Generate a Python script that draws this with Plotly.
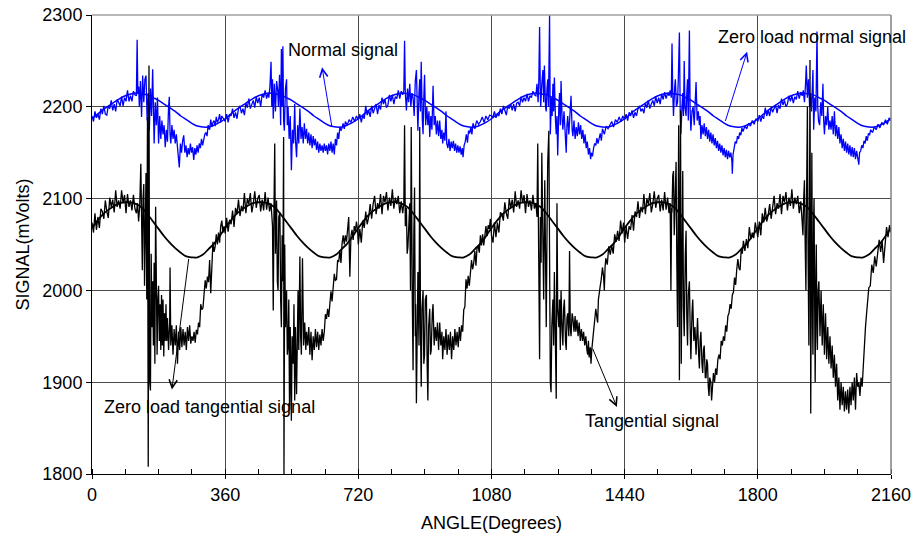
import plotly.graph_objects as go

# ---------------- data ----------------
# zero-load curves: one 360-degree cycle sampled every 15 degrees
zero_cycle_angle = [0, 15, 30, 45, 60, 75, 90, 105, 120, 135, 150, 165, 180,
                    195, 210, 225, 240, 255, 270, 285, 300, 315, 330, 345]
zero_normal_cycle = [2187, 2192, 2197, 2201, 2205, 2209, 2212, 2214, 2215, 2214, 2213, 2210, 2207,
                     2203, 2199, 2195, 2190, 2186, 2182, 2179, 2178, 2178, 2180, 2183]
zero_tang_cycle = [2068, 2076, 2083, 2088, 2092, 2095, 2096, 2096, 2094, 2090, 2083, 2075, 2067,
                   2059, 2052, 2046, 2041, 2037, 2036, 2036, 2039, 2045, 2051, 2059]
n_cycles = 6

# normal signal, (angle, mV) per revolution
normal_c1 = [(0,2190),(4,2184),(8,2195),(12,2188),(16,2192),(20,2186),(24,2198),(28,2192),(32,2201),(36,2192),(40,2191),(44,2201),(48,2198),(52,2207),(56,2196),(60,2203),(64,2195),(68,2208),(72,2205),(76,2201),(80,2211),(84,2201),(88,2210),(92,2206),(96,2218),(100,2206),(104,2212),(108,2206),(112,2217),(116,2213),(120,2212),(122,2273),(124,2214),(126,2222),(128,2200),(131,2228),(134,2189),(137,2234),(140,2205),(143,2230),(146,2234),(149,2185),(152,2215),(155,2174),(158,2220),(161,2190),(164,2241),(166,2172),(168,2160),(171,2205),(174,2180),(177,2210),(180,2160),(183,2190),(186,2165),(189,2185),(192,2170),(195,2180),(198,2156),(201,2175),(204,2162),(207,2200),(209,2211),(211,2170),(213,2160),(216,2180),(219,2165),(222,2175),(225,2160),(228,2170),(231,2155),(234,2145),(236,2134),(239,2160),(242,2150),(245,2163),(248,2169),(251,2150),(254,2158),(257,2145),(260,2155),(263,2148),(266,2160),(269,2150),(272,2156),(275,2142),(278,2155),(281,2148),(284,2158),(287,2150),(290,2160),(293,2155),(296,2165),(299,2158),(302,2165),(305,2170),(308,2172),(311,2168),(314,2180),(318,2175),(321,2186),(324,2178),(327,2183),(330,2185),(333,2179),(336,2189),(339,2183),(342,2186),(345,2192),(348,2183),(351,2190),(354,2188),(357,2186)]
normal_c2 = [(360,2184),(364,2192),(368,2183),(372,2192),(376,2190),(380,2198),(384,2188),(388,2194),(392,2187),(396,2198),(400,2201),(404,2193),(408,2198),(412,2191),(416,2204),(420,2199),(424,2209),(428,2198),(432,2203),(436,2207),(440,2199),(444,2211),(448,2204),(452,2210),(456,2200),(460,2214),(464,2210),(468,2218),(472,2209),(476,2215),(478,2210),(481,2222),(484,2249),(486,2200),(488,2230),(490,2187),(493,2225),(496,2195),(499,2228),(502,2218),(504,2200),(507,2235),(510,2180),(512,2263),(514,2200),(516,2266),(518,2185),(520,2174),(523,2220),(526,2230),(528,2180),(530,2200),(533,2165),(536,2190),(539,2131),(542,2175),(545,2160),(548,2203),(550,2165),(553,2145),(556,2180),(559,2160),(562,2198),(565,2165),(568,2178),(571,2160),(574,2182),(577,2165),(580,2176),(583,2160),(586,2172),(589,2158),(592,2170),(595,2155),(598,2168),(601,2158),(604,2165),(607,2153),(610,2162),(613,2150),(616,2160),(619,2152),(622,2158),(625,2150),(628,2160),(631,2152),(634,2158),(637,2148),(640,2160),(643,2152),(646,2162),(649,2150),(652,2160),(655,2148),(658,2165),(661,2158),(664,2172),(667,2165),(670,2178),(673,2174),(676,2177),(679,2182),(682,2176),(685,2184),(690,2180),(695,2186),(700,2183),(705,2189),(710,2184),(715,2190)]
normal_c3 = [(720,2186),(724,2192),(728,2183),(732,2191),(736,2187),(740,2201),(744,2191),(748,2196),(752,2189),(756,2201),(760,2193),(764,2198),(768,2203),(772,2192),(776,2202),(780,2197),(784,2210),(788,2203),(792,2208),(796,2199),(800,2202),(804,2213),(808,2206),(812,2213),(816,2203),(820,2211),(824,2209),(828,2218),(832,2209),(836,2217),(840,2213),(843,2218),(845,2272),(847,2215),(850,2196),(853,2220),(856,2205),(859,2225),(862,2200),(865,2215),(868,2210),(871,2190),(874,2228),(877,2240),(880,2190),(881,2174),(884,2215),(886,2230),(888,2195),(890,2249),(893,2185),(895,2170),(897,2210),(899,2235),(902,2180),(905,2200),(908,2180),(911,2195),(913,2167),(916,2190),(919,2175),(922,2223),(925,2180),(928,2190),(931,2170),(934,2185),(937,2168),(940,2185),(943,2165),(946,2175),(948,2160),(951,2172),(954,2163),(957,2195),(959,2160),(962,2155),(965,2165),(968,2152),(971,2162),(974,2155),(977,2163),(980,2152),(983,2160),(986,2150),(989,2158),(992,2150),(995,2157),(998,2148),(1001,2155),(1003,2145),(1006,2158),(1009,2162),(1012,2170),(1015,2161),(1018,2174),(1021,2171),(1024,2178),(1027,2170),(1030,2182),(1035,2176),(1040,2185),(1045,2181),(1050,2184),(1055,2189),(1060,2183),(1065,2190),(1070,2186),(1075,2191)]
normal_c4 = [(1080,2190),(1084,2189),(1088,2195),(1092,2188),(1096,2192),(1100,2190),(1104,2198),(1108,2192),(1112,2201),(1116,2196),(1120,2191),(1124,2201),(1128,2198),(1132,2203),(1136,2196),(1140,2203),(1144,2195),(1148,2204),(1152,2205),(1156,2201),(1160,2211),(1164,2205),(1168,2210),(1172,2206),(1176,2214),(1180,2206),(1184,2212),(1188,2210),(1192,2217),(1196,2213),(1200,2212),(1203,2225),(1206,2205),(1208,2230),(1210,2287),(1212,2215),(1213,2200),(1216,2225),(1219,2240),(1221,2205),(1223,2245),(1226,2200),(1228,2195),(1230,2220),(1232,2230),(1234,2200),(1237,2300),(1239,2170),(1242,2210),(1244,2190),(1246,2225),(1248,2195),(1250,2232),(1253,2185),(1255,2170),(1257,2190),(1259,2147),(1262,2200),(1264,2215),(1266,2180),(1268,2228),(1271,2185),(1273,2175),(1276,2195),(1279,2165),(1282,2150),(1284,2180),(1286,2190),(1289,2170),(1292,2195),(1295,2212),(1298,2175),(1300,2168),(1303,2185),(1306,2165),(1309,2178),(1312,2168),(1315,2183),(1318,2170),(1321,2180),(1324,2165),(1327,2175),(1330,2160),(1333,2170),(1336,2155),(1339,2162),(1342,2148),(1345,2155),(1348,2143),(1350,2150),(1353,2146),(1356,2155),(1359,2160),(1362,2158),(1365,2166),(1368,2160),(1371,2168),(1374,2171),(1377,2163),(1380,2176),(1385,2170),(1390,2179),(1395,2176),(1400,2180),(1405,2184),(1410,2178),(1415,2186),(1420,2183),(1425,2189),(1430,2184),(1435,2190)]
normal_c5 = [(1440,2186),(1444,2192),(1448,2185),(1452,2194),(1456,2190),(1460,2196),(1464,2188),(1468,2194),(1472,2190),(1476,2198),(1480,2201),(1484,2195),(1488,2198),(1492,2193),(1496,2204),(1500,2199),(1504,2207),(1508,2198),(1512,2203),(1516,2207),(1520,2201),(1524,2211),(1528,2204),(1532,2210),(1536,2203),(1540,2214),(1544,2208),(1548,2216),(1552,2209),(1556,2215),(1560,2212),(1563,2218),(1566,2210),(1568,2269),(1570,2215),(1572,2190),(1575,2220),(1577,2230),(1580,2200),(1583,2205),(1585,2230),(1588,2281),(1590,2200),(1592,2170),(1595,2200),(1597,2215),(1599,2190),(1601,2250),(1603,2200),(1606,2190),(1608,2215),(1610,2230),(1612,2185),(1615,2283),(1617,2195),(1619,2174),(1622,2195),(1625,2200),(1628,2180),(1630,2210),(1633,2227),(1636,2185),(1639,2195),(1642,2180),(1644,2190),(1646,2165),(1649,2180),(1652,2170),(1655,2182),(1658,2168),(1661,2178),(1664,2165),(1667,2175),(1670,2162),(1673,2172),(1676,2160),(1679,2170),(1682,2158),(1685,2166),(1688,2155),(1691,2163),(1694,2152),(1697,2160),(1700,2150),(1703,2158),(1706,2147),(1709,2155),(1712,2145),(1715,2153),(1718,2143),(1721,2152),(1724,2145),(1727,2150),(1730,2140),(1731,2127),(1733,2148),(1736,2156),(1739,2162),(1742,2160),(1745,2168),(1748,2165),(1751,2172),(1754,2169),(1757,2177),(1760,2173),(1765,2179),(1770,2176),(1775,2182),(1780,2179),(1785,2185),(1790,2181),(1795,2187)]
normal_c6 = [(1800,2184),(1804,2191),(1808,2184),(1812,2190),(1816,2187),(1820,2199),(1824,2190),(1828,2196),(1832,2190),(1836,2200),(1840,2194),(1844,2198),(1848,2202),(1852,2193),(1856,2202),(1860,2198),(1864,2209),(1868,2202),(1872,2207),(1876,2200),(1880,2203),(1884,2212),(1888,2206),(1892,2212),(1896,2204),(1900,2211),(1904,2208),(1908,2217),(1912,2209),(1916,2216),(1920,2212),(1923,2218),(1926,2205),(1929,2225),(1931,2245),(1934,2210),(1937,2230),(1940,2200),(1942,2215),(1945,2195),(1947,2225),(1949,2240),(1951,2175),(1954,2210),(1957,2195),(1960,2282),(1962,2200),(1964,2185),(1967,2180),(1970,2205),(1973,2190),(1976,2225),(1978,2185),(1980,2170),(1983,2190),(1986,2180),(1989,2200),(1992,2175),(1995,2185),(1998,2175),(2001,2190),(2004,2170),(2007,2195),(2010,2168),(2013,2180),(2016,2165),(2019,2178),(2022,2160),(2025,2170),(2028,2155),(2031,2165),(2034,2152),(2037,2162),(2040,2150),(2043,2160),(2046,2148),(2049,2158),(2052,2146),(2055,2156),(2058,2145),(2061,2155),(2064,2143),(2067,2152),(2070,2142),(2073,2137),(2075,2150),(2078,2152),(2081,2158),(2084,2155),(2087,2163),(2090,2160),(2093,2168),(2096,2163),(2099,2171),(2102,2169),(2105,2175),(2110,2172),(2115,2178),(2120,2175),(2125,2181),(2130,2177),(2135,2183),(2140,2180),(2145,2186),(2150,2181),(2155,2188),(2160,2185)]

# tangential signal, (angle, mV) per revolution
tang_c1 = [(0,2074),(4,2063),(8,2084),(12,2066),(16,2080),(20,2068),(24,2089),(28,2086),(32,2078),(36,2098),(40,2086),(44,2079),(48,2101),(52,2091),(56,2099),(60,2085),(64,2109),(68,2091),(72,2098),(76,2089),(80,2109),(84,2095),(88,2104),(92,2084),(96,2105),(100,2091),(104,2098),(108,2087),(112,2104),(116,2089),(120,2084),(123,2095),(126,2075),(129,2092),(132,2138),(134,2040),(136,2022),(138,2100),(140,2116),(142,2005),(144,2060),(146,2128),(148,1990),(150,2189),(152,1808),(154,2245),(156,1900),(158,1891),(160,2040),(162,1960),(164,2010),(166,1940),(168,2030),(170,1920),(172,2091),(174,1975),(176,1930),(178,1990),(180,2005),(182,1945),(184,1985),(186,1935),(188,1995),(190,1940),(192,1990),(194,1928),(196,1975),(198,1945),(200,1985),(202,1945),(204,1970),(207,1935),(210,1965),(211,2025),(213,1940),(216,1962),(219,1930),(222,1958),(225,1940),(228,1962),(231,1920),(234,1955),(237,1935),(240,1960),(243,1938),(246,1958),(249,1940),(252,1955),(255,1935),(258,1960),(261,1945),(264,1962),(267,1942),(270,1950),(273,1945),(276,1955),(279,1943),(282,1957),(285,1952),(288,1965),(291,1960),(294,1985),(297,1979),(300,1981),(303,1999),(306,2011),(309,2002),(312,2015),(315,2009),(318,2033),(321,1997),(324,2029),(327,2053),(330,2042),(333,2048),(336,2061),(339,2050),(342,2063),(345,2052),(348,2070),(351,2076),(354,2063),(357,2070)]
tang_c2 = [(360,2062),(364,2079),(368,2064),(372,2077),(376,2072),(380,2087),(384,2069),(388,2090),(392,2083),(396,2099),(400,2081),(404,2092),(408,2086),(412,2106),(416,2084),(420,2100),(424,2094),(428,2106),(432,2085),(436,2094),(440,2108),(444,2090),(448,2100),(452,2104),(456,2086),(460,2099),(464,2087),(468,2107),(472,2088),(476,2101),(480,2086),(484,2095),(488,2070),(490,1978),(492,2090),(494,2160),(496,2040),(499,2098),(501,2010),(503,2000),(505,2080),(508,2085),(510,1990),(512,1960),(514,2060),(516,2010),(518,2167),(519,1800),(521,2050),(523,1960),(526,2000),(528,1930),(530,1940),(532,1990),(534,1870),(536,1960),(539,1858),(541,1950),(544,1920),(546,1985),(548,1880),(550,1960),(553,1887),(555,1970),(557,2000),(559,1935),(562,2037),(564,1950),(566,1930),(569,2035),(571,1950),(572,1940),(575,1965),(578,1935),(580,1955),(583,1940),(586,1960),(589,1930),(592,1955),(595,1924),(598,1950),(601,1935),(604,1958),(607,1938),(610,1955),(613,1935),(616,1952),(619,1940),(622,1958),(625,1945),(628,1955),(631,1974),(634,1969),(637,1980),(640,1971),(643,1988),(646,1999),(649,1988),(652,2003),(655,2018),(658,2011),(661,2012),(664,2033),(667,2031),(670,2044),(673,2030),(676,2051),(679,2060),(682,2050),(685,2060),(688,2053),(691,2069),(694,2080),(697,2015),(700,2059),(703,2066),(706,2055),(709,2070),(712,2065),(715,2075),(718,2065)]
tang_c3 = [(720,2050),(724,2067),(728,2052),(732,2076),(736,2068),(740,2086),(744,2072),(748,2080),(752,2094),(756,2078),(760,2094),(764,2103),(768,2083),(772,2095),(776,2089),(780,2105),(784,2083),(788,2103),(792,2096),(796,2107),(800,2087),(804,2101),(808,2092),(812,2110),(816,2089),(820,2101),(824,2094),(828,2103),(832,2084),(836,2097),(840,2084),(843,2095),(845,2180),(847,2070),(850,2090),(852,2040),(854,2047),(857,2080),(859,2095),(861,2000),(863,2178),(866,1985),(868,1913),(870,2060),(872,2112),(874,1950),(875,1985),(877,1877),(879,1960),(881,2020),(884,1940),(886,2178),(888,1960),(890,1895),(892,1980),(895,2000),(897,1920),(899,1930),(901,1990),(904,1995),(906,1920),(908,1880),(910,1960),(913,1980),(915,1930),(917,1935),(920,1975),(922,1985),(925,1940),(928,1960),(931,1945),(934,1965),(937,1935),(940,1965),(943,1940),(946,1955),(948,1925),(951,1950),(954,1935),(957,1958),(960,1930),(963,1952),(966,1935),(969,1955),(972,1925),(975,1950),(978,1935),(981,1958),(984,1940),(987,1955),(990,1938),(993,1960),(996,1945),(999,1962),(1002,1955),(1005,1979),(1008,1982),(1011,2012),(1014,2002),(1017,2016),(1020,2005),(1023,2022),(1026,2033),(1029,2023),(1032,2030),(1035,2043),(1038,2027),(1041,2047),(1044,2048),(1047,2041),(1050,2060),(1053,2049),(1056,2061),(1059,2049),(1062,2062),(1065,2070),(1068,2059),(1071,2071),(1074,2067),(1077,2078)]
tang_c4 = [(1080,2060),(1084,2052),(1088,2074),(1092,2058),(1096,2074),(1100,2063),(1104,2085),(1108,2083),(1112,2076),(1116,2096),(1120,2084),(1124,2078),(1128,2100),(1132,2090),(1136,2099),(1140,2085),(1144,2108),(1148,2091),(1152,2098),(1156,2089),(1160,2109),(1164,2095),(1168,2104),(1172,2084),(1176,2105),(1180,2091),(1184,2098),(1188,2087),(1192,2104),(1196,2089),(1200,2095),(1203,2080),(1205,2160),(1208,2050),(1210,1925),(1212,2080),(1214,2030),(1216,2150),(1218,2060),(1221,1990),(1224,2120),(1226,2020),(1228,1960),(1230,2060),(1232,2140),(1235,2174),(1237,1980),(1239,1900),(1241,1889),(1243,1960),(1246,1990),(1248,1940),(1250,2020),(1253,1920),(1255,1882),(1257,2095),(1259,1980),(1262,1960),(1264,1990),(1266,1935),(1268,2000),(1271,1955),(1273,1940),(1275,1980),(1277,1990),(1280,1945),(1282,1935),(1284,1970),(1286,1975),(1289,1950),(1291,2043),(1293,1960),(1295,1950),(1298,1975),(1300,1970),(1303,1955),(1306,1972),(1308,1955),(1311,1968),(1314,1950),(1317,1965),(1320,1945),(1323,1958),(1326,1945),(1329,1955),(1332,1940),(1335,1950),(1338,1935),(1340,1930),(1342,1945),(1344,1927),(1347,1938),(1349,1920),(1351,1935),(1353,1945),(1356,1960),(1359,1975),(1362,1980),(1365,1970),(1367,1965),(1369,1990),(1371,2000),(1374,2005),(1376,2010),(1378,2020),(1380,2025),(1383,2015),(1385,2000),(1387,2025),(1389,2035),(1393,2028),(1397,2048),(1401,2039),(1405,2049),(1409,2040),(1413,2061),(1417,2053),(1421,2065),(1425,2054),(1429,2076),(1433,2062),(1437,2074)]
tang_c5 = [(1440,2052),(1444,2070),(1448,2056),(1452,2070),(1456,2066),(1460,2082),(1464,2065),(1468,2086),(1472,2080),(1476,2097),(1480,2079),(1484,2091),(1488,2085),(1492,2105),(1496,2083),(1500,2100),(1504,2094),(1508,2106),(1512,2085),(1516,2094),(1520,2108),(1524,2090),(1528,2100),(1532,2104),(1536,2086),(1540,2099),(1544,2087),(1548,2107),(1552,2088),(1556,2101),(1560,2084),(1563,2095),(1565,2000),(1567,2090),(1568,2085),(1570,2125),(1572,2130),(1574,2060),(1577,2110),(1579,2140),(1581,2030),(1583,1960),(1585,2100),(1586,2180),(1588,1902),(1590,2050),(1591,2196),(1593,1920),(1595,2000),(1597,2130),(1599,1980),(1601,1950),(1604,2040),(1606,2065),(1608,1970),(1610,1940),(1612,1995),(1615,2010),(1617,1960),(1619,1925),(1622,1975),(1624,1990),(1627,1945),(1630,1960),(1633,1930),(1635,1955),(1637,1970),(1640,1930),(1642,1915),(1644,1945),(1646,1955),(1649,1920),(1651,1910),(1653,1935),(1655,1940),(1658,1905),(1660,1905),(1662,1925),(1664,1920),(1666,1895),(1668,1885),(1670,1905),(1673,1900),(1675,1880),(1677,1890),(1680,1910),(1683,1900),(1686,1915),(1689,1908),(1692,1925),(1695,1930),(1698,1925),(1701,1945),(1704,1940),(1707,1950),(1710,1945),(1713,1962),(1716,1955),(1719,1972),(1722,1975),(1725,1985),(1728,1980),(1731,1995),(1734,1998),(1737,2014),(1740,2006),(1743,2023),(1746,2034),(1749,2024),(1752,2022),(1755,2045),(1758,2040),(1761,2054),(1765,2043),(1769,2056),(1773,2046),(1777,2069),(1781,2056),(1785,2063),(1789,2057),(1793,2074),(1797,2064)]
tang_c6 = [(1800,2058),(1804,2075),(1808,2060),(1812,2084),(1816,2074),(1820,2090),(1824,2075),(1828,2082),(1832,2094),(1836,2078),(1840,2094),(1844,2103),(1848,2083),(1852,2095),(1856,2089),(1860,2105),(1864,2083),(1868,2103),(1872,2096),(1876,2107),(1880,2087),(1884,2101),(1888,2092),(1892,2110),(1896,2089),(1900,2101),(1904,2094),(1908,2103),(1912,2084),(1916,2097),(1919,2080),(1922,2060),(1924,2100),(1926,2120),(1928,2050),(1930,2000),(1932,2110),(1934,2200),(1936,2030),(1938,1940),(1940,2120),(1941,2251),(1943,1866),(1945,2050),(1946,2150),(1948,1960),(1949,1930),(1951,2080),(1952,2100),(1954,1960),(1955,1900),(1957,2020),(1958,2050),(1960,1950),(1961,1935),(1963,2000),(1965,2010),(1968,1950),(1971,2000),(1974,1940),(1977,1985),(1980,1930),(1983,1975),(1986,1925),(1989,1960),(1992,1920),(1995,1950),(1998,1915),(2001,1940),(2004,1905),(2007,1930),(2010,1895),(2013,1920),(2016,1880),(2019,1905),(2022,1870),(2025,1900),(2028,1875),(2031,1895),(2034,1868),(2037,1890),(2040,1870),(2043,1892),(2046,1866),(2049,1895),(2052,1875),(2055,1900),(2058,1880),(2061,1905),(2064,1870),(2067,1910),(2070,1895),(2073,1900),(2076,1885),(2079,1905),(2082,1895),(2085,1920),(2088,1930),(2091,1960),(2094,1975),(2097,1995),(2100,2003),(2104,2005),(2108,2028),(2112,2019),(2116,2037),(2120,2026),(2124,2044),(2128,2055),(2132,2042),(2136,2054),(2140,2030),(2144,2050),(2148,2069),(2152,2058),(2156,2071),(2160,2063)]

x_tick_vals = [0, 360, 720, 1080, 1440, 1800, 2160]
y_tick_vals = [1800, 1900, 2000, 2100, 2200, 2300]

# ---------------- assemble series ----------------
def unzip(parts):
    xs, ys = [], []
    for part in parts:
        for a, v in part:
            xs.append(a)
            ys.append(v)
    return xs, ys

normal_x, normal_y = unzip([normal_c1, normal_c2, normal_c3, normal_c4, normal_c5, normal_c6])
tang_x, tang_y = unzip([tang_c1, tang_c2, tang_c3, tang_c4, tang_c5, tang_c6])

zero_x, zero_n, zero_t = [], [], []
for k in range(n_cycles):
    for a, vn, vt in zip(zero_cycle_angle, zero_normal_cycle, zero_tang_cycle):
        zero_x.append(360 * k + a)
        zero_n.append(vn)
        zero_t.append(vt)
zero_x.append(360 * n_cycles)
zero_n.append(zero_normal_cycle[0])
zero_t.append(zero_tang_cycle[0])

FONT = "Liberation Sans, Arial, sans-serif"
FS = 18

fig = go.Figure()
fig.add_trace(go.Scatter(x=zero_x, y=zero_n, mode="lines", line=dict(color="#0000ff", width=1.5, shape="spline"),
                         showlegend=False, hoverinfo="skip"))
fig.add_trace(go.Scatter(x=zero_x, y=zero_t, mode="lines", line=dict(color="#000000", width=1.8, shape="spline"),
                         showlegend=False, hoverinfo="skip"))
fig.add_trace(go.Scatter(x=normal_x, y=normal_y, mode="lines", line=dict(color="#0000ff", width=1.3),
                         showlegend=False, name="Normal signal"))
fig.add_trace(go.Scatter(x=tang_x, y=tang_y, mode="lines", line=dict(color="#000000", width=1.3),
                         showlegend=False, name="Tangential signal"))

# arrows (tail -> head) and labels
arrows = [
    dict(x=622, y=2243, ax=649, ay=2177, color="#0000ff"),
    dict(x=1771, y=2260, ax=1711, ay=2183, color="#0000ff"),
    dict(x=216, y=1892, ax=262, ay=2036, color="#000000"),
    dict(x=1419, y=1873, ax=1352, ay=1938, color="#000000"),
]
for a in arrows:
    fig.add_annotation(x=a["x"], y=a["y"], ax=a["ax"], ay=a["ay"], xref="x", yref="y", axref="x", ayref="y",
                       text="", showarrow=True, arrowhead=5, arrowsize=1.6, arrowwidth=1, arrowcolor=a["color"])

labels = [
    ("Normal signal", 524, 2262),
    ("Zero load normal signal", 1687, 2276),
    ("Zero load tangential signal", 27, 1873),
    ("Tangential signal", 1327, 1858),
]
for t, x, y in labels:
    fig.add_annotation(x=x, y=y, xref="x", yref="y", text=t, showarrow=False, xanchor="left", yanchor="middle",
                       font=dict(family=FONT, size=FS, color="#000000"))

# top / right border of plot area
fig.add_shape(type="line", xref="paper", yref="paper", x0=0, x1=1, y0=1, y1=1, line=dict(color="#a0a0a0", width=1.5))
fig.add_shape(type="line", xref="paper", yref="paper", x0=1, x1=1, y0=0, y1=1, line=dict(color="#808080", width=1.5))

fig.update_layout(
    width=916, height=545,
    margin=dict(l=92, r=25, t=15, b=71, autoexpand=False),
    paper_bgcolor="white", plot_bgcolor="white",
    font=dict(family=FONT, size=FS, color="#000000"),
)
fig.update_xaxes(range=[0, 2160], tickvals=x_tick_vals, ticktext=[str(v) for v in x_tick_vals],
                 automargin=False,
                 showgrid=True, gridcolor="#4a4a4a", gridwidth=1, zeroline=False,
                 showline=True, linecolor="#000000", linewidth=1,
                 ticks="outside", ticklen=4, tickcolor="#000000",
                 minor=dict(dtick=90, tick0=0, ticks="inside", ticklen=5, tickcolor="#000000", showgrid=False),
                 title=dict(text="ANGLE(Degrees)", font=dict(family=FONT, size=FS), standoff=12),
                 tickfont=dict(family=FONT, size=FS))
fig.update_yaxes(range=[1800, 2300], tickvals=y_tick_vals, ticktext=[str(v) for v in y_tick_vals],
                 automargin=False,
                 showgrid=True, gridcolor="#4a4a4a", gridwidth=1, zeroline=False,
                 showline=True, linecolor="#000000", linewidth=1,
                 ticks="outside", ticklen=5, tickcolor="#000000",
                 title=dict(text="SIGNAL(mVolts)", font=dict(family=FONT, size=FS), standoff=8),
                 tickfont=dict(family=FONT, size=FS))

fig.write_html("out.html")
